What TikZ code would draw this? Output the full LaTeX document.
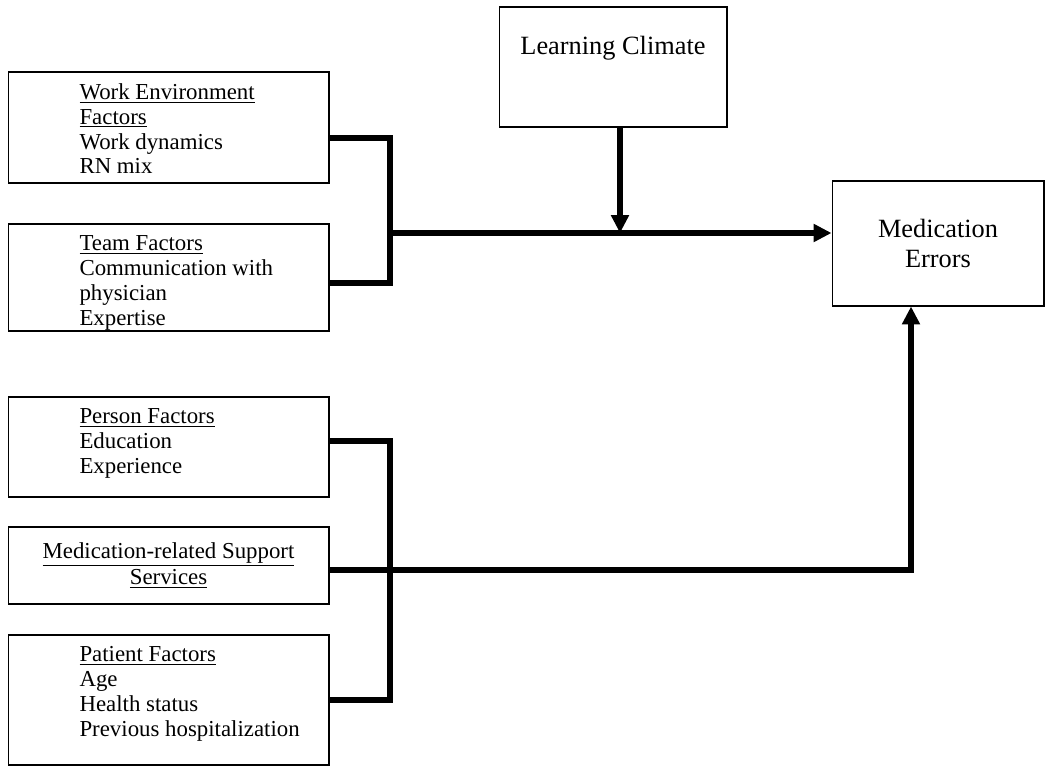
\documentclass[tikz,border=0pt]{standalone}
\usepackage{fontspec}
\setmainfont{Liberation Serif}
\usetikzlibrary{positioning}
\usetikzlibrary{arrows.meta}
\pgfdeclarelayer{nodelayer}
\pgfdeclarelayer{edgelayer}
\pgfsetlayers{nodelayer,edgelayer,main}
\tikzset{
    none/.style = {inner sep=0pt},
    box/.style = {draw, line width=0.6pt, inner sep=0pt, minimum width=6.42cm},
    boxtext/.style = {inner sep=0pt, align=left, font=\fontsize{13}{14.2}\selectfont},
    bigtext/.style = {align=center, font=\fontsize{15}{17.6}\selectfont},
    link/.style = {line width=3.1pt},
    arrowed/.style = {-{Triangle[length=10.2pt, width=9.8pt]}}
}

\begin{document}
\begin{tikzpicture}[x=0.02cm, y=-0.02cm]
  \useasboundingbox (0,0) rectangle (1050,770);
  \begin{pgfonlayer}{nodelayer}
    \node [style=box, minimum height=2.22cm] (0) at (168.5,127.5) {};
    \node [style=box, minimum height=2.14cm] (1) at (168.5,277.5) {};
    \node [style=box, minimum height=2cm] (2) at (168.5,447) {};
    \node [style=box, minimum height=1.54cm, align=center, font=\fontsize{13}{15.2}\selectfont] (3) at (168.5,565.5) {\underline{Medication-related Support}\\\underline{Services}};
    \node [style=box, minimum height=2.6cm] (4) at (168.5,700) {};
    \node [style=box, minimum width=4.56cm, minimum height=2.4cm] (5) at (613,67) {};
    \node [style=box, style=bigtext, minimum width=4.24cm, minimum height=2.5cm] (6) at (938,243.5) {Medication\\Errors};
    \node [style=boxtext, below right=6.5pt and 40.8pt of 0.north west] (7) {\underline{Work Environment}\\\underline{Factors}\\Work dynamics\\RN mix};
    \node [style=boxtext, below right=6.5pt and 40.8pt of 1.north west] (8) {\underline{Team Factors}\\Communication with\\physician\\Expertise};
    \node [style=boxtext, below right=6.5pt and 40.8pt of 2.north west] (9) {\underline{Person Factors}\\Education\\Experience};
    \node [style=boxtext, below right=6.5pt and 40.8pt of 4.north west] (10) {\underline{Patient Factors}\\Age\\Health status\\Previous hospitalization};
    \node [style=bigtext, inner sep=0pt, below=17pt of 5.north] (11) {Learning Climate};
    \node [style=none] (12) at (390,233) {};
    \node [style=none] (13) at (390,570) {};
    \node [style=none] (14) at (911,570) {};
  \end{pgfonlayer}
  \begin{pgfonlayer}{edgelayer}
    \draw [style=link] ([yshift=-0.21cm]0.east) -| (12.center) |- ([yshift=-0.11cm]1.east);
    \draw [style=link, style=arrowed] (12.center) to (12.center -| 6.west);
    \draw [style=link, style=arrowed] ([xshift=0.14cm]5.south) to ([xshift=0.14cm]5.south |- 12.center);
    \draw [style=link] ([yshift=0.12cm]2.east) -| (13.center) |- (4.east);
    \draw [style=link, style=arrowed] (3.east |- 13.center) -| (14.center |- 6.south);
  \end{pgfonlayer}
\end{tikzpicture}
\end{document}
